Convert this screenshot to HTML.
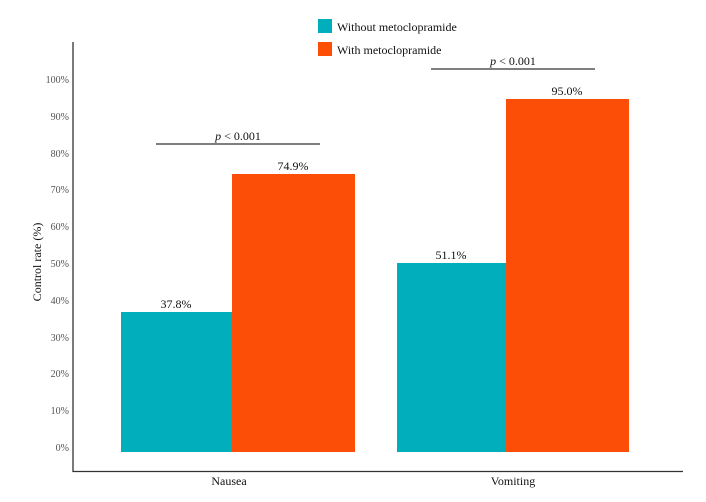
<!DOCTYPE html>
<html><head><style>body{margin:0;background:#fff}</style></head><body>
<svg width="706" height="497" xmlns="http://www.w3.org/2000/svg" font-family="Liberation Serif, serif">
<rect width="706" height="497" fill="#fff"/>
<rect x="318" y="19" width="14" height="14" fill="#00AFBB"/>
<rect x="318" y="42" width="14" height="14" fill="#FC4E07"/>
<text x="337" y="31" font-size="12" fill="#111">Without metoclopramide</text>
<text x="337" y="54" font-size="12" fill="#111">With metoclopramide</text>
<line x1="73" y1="42" x2="73" y2="472" stroke="#333" stroke-width="1.3"/>
<line x1="72.5" y1="471.5" x2="683" y2="471.5" stroke="#333" stroke-width="1.3"/>
<g font-size="10" fill="#555" text-anchor="end">
<text x="69" y="83">100%</text><text x="69" y="120">90%</text><text x="69" y="157">80%</text>
<text x="69" y="193">70%</text><text x="69" y="230">60%</text><text x="69" y="267">50%</text>
<text x="69" y="304">40%</text><text x="69" y="341">30%</text><text x="69" y="377">20%</text>
<text x="69" y="414">10%</text><text x="69" y="451">0%</text>
</g>
<text transform="translate(41,262) rotate(-90)" font-size="12" text-anchor="middle" fill="#111">Control rate (%)</text>
<rect x="121" y="312" width="111" height="140" fill="#00AFBB"/>
<rect x="232" y="174" width="123" height="278" fill="#FC4E07"/>
<rect x="397" y="263" width="109" height="189" fill="#00AFBB"/>
<rect x="506" y="99" width="123" height="353" fill="#FC4E07"/>
<g font-size="12" fill="#111" text-anchor="middle">
<text x="176" y="308">37.8%</text><text x="293" y="170">74.9%</text>
<text x="451" y="259">51.1%</text><text x="567" y="95">95.0%</text>
<text x="238" y="140"><tspan font-style="italic">p</tspan> &lt; 0.001</text>
<text x="513" y="65"><tspan font-style="italic">p</tspan> &lt; 0.001</text>
<text x="229" y="485">Nausea</text><text x="513" y="485">Vomiting</text>
</g>
<line x1="156" y1="144" x2="320" y2="144" stroke="#333" stroke-width="1.2"/>
<line x1="431" y1="69" x2="595" y2="69" stroke="#333" stroke-width="1.2"/>
</svg>
</body></html>
